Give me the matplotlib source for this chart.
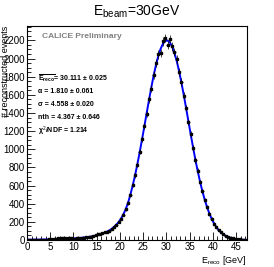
import numpy as np
import matplotlib
matplotlib.use('Agg')
import matplotlib.pyplot as plt
from matplotlib.ticker import MultipleLocator

plt.rcParams['font.family'] = ['Liberation Sans', 'DejaVu Sans']
plt.rcParams['mathtext.fontset'] = 'custom'
plt.rcParams['mathtext.rm'] = 'Liberation Sans'
plt.rcParams['mathtext.it'] = 'Liberation Sans'
plt.rcParams['mathtext.bf'] = 'Liberation Sans:bold'

# bin centres (0.5 GeV bins)
e_reco = [0.25 + 0.5 * i for i in range(95)]

# measured events per bin
events = [0, 1, 1, 2, 2, 3, 3, 4, 5, 6,
          8, 10, 16, 20, 22, 21, 24, 22, 18, 17,
          16, 18, 20, 22, 25, 28, 32, 36, 42, 50,
          66, 72, 78, 84, 92, 104, 122, 144, 168, 198,
          236, 280, 340, 405, 495, 605, 715, 830, 975, 1110,
          1255, 1390, 1550, 1670, 1820, 1955, 2045, 2060, 2190, 2225,
          2150, 2215, 2135, 2070, 1990, 1850, 1740, 1590, 1455, 1300,
          1165, 1015, 880, 765, 640, 540, 440, 365, 290, 236,
          182, 145, 108, 84, 62, 48, 34, 26, 18, 12,
          9, 6, 4, 3, 2]

# fitted curve values at the bin centres
fit_vals = [3.7, 4.0, 4.2, 4.5, 4.9, 5.3, 5.7, 6.1, 6.6, 7.1,
            7.7, 8.4, 9.1, 9.9, 10.7, 11.7, 12.7, 13.9, 15.2, 16.7,
            18.5, 20.4, 22.5, 24.9, 27.7, 30.8, 34.3, 38.4, 43.2, 48.6,
            55, 62, 71, 81, 93, 107, 124, 145, 170, 200,
            237, 283, 340, 411, 499, 600, 711, 834, 965, 1105,
            1249, 1396, 1540, 1679, 1810, 1927, 2026, 2106, 2162, 2194,
            2199, 2178, 2131, 2061, 1969, 1858, 1733, 1597, 1454, 1308,
            1162, 1020, 885, 759, 643, 538, 445, 364, 293, 234,
            184, 143, 110, 84, 63, 47, 34, 25, 18, 13,
            9, 6, 4, 3, 2]

fig = plt.figure(figsize=(2.74, 2.67), dpi=100)
ax = fig.add_axes([0.0985, 0.101, 0.802, 0.802])

ax.plot(e_reco, fit_vals, color='#0000ff', lw=1.4, zorder=2)
ax.errorbar(e_reco, events, yerr=np.sqrt(events), xerr=0.25, fmt='s',
            color='black', ms=1.6, elinewidth=0.5, capsize=0, zorder=3)

ax.set_xlim(0, 47.3)
ax.set_ylim(0, 2360)
ax.xaxis.set_major_locator(MultipleLocator(5))
ax.xaxis.set_minor_locator(MultipleLocator(1))
ax.yaxis.set_major_locator(MultipleLocator(200))
ax.yaxis.set_minor_locator(MultipleLocator(50))
ax.tick_params(which='both', direction='in', labelsize=7, pad=1.5,
               top=False, right=False, width=0.6)
ax.tick_params(which='major', length=6)
ax.tick_params(which='minor', length=3)
for s in ax.spines.values():
    s.set_linewidth(0.8)

fig.text(0.5, 0.985, r'E$_{\mathregular{beam}}$=30GeV', ha='center', va='top', fontsize=10)
ax.set_xlabel(r'E$_{\mathregular{reco}}$ [GeV]', fontsize=6.5, ha='right', x=1.0, labelpad=1)
ax.set_ylabel('# reconstructed events', fontsize=6.5, ha='right', va='center')
ax.yaxis.set_label_coords(-0.1, 1.0)

ax.text(0.07, 0.949, 'CALICE Preliminary', transform=ax.transAxes, fontsize=6,
        fontweight='bold', color='#808080', va='center')
stats = [r'$\overline{\mathbf{E_{reco}}}$= 30.111 ± 0.025',
         'α = 1.810 ± 0.061',
         'σ = 4.558 ± 0.020',
         'nth = 4.367 ± 0.646',
         'χ$^{2}$/NDF = 1.214']
for i, s in enumerate(stats):
    ax.text(0.05, 0.757 - i * 0.062, s, transform=ax.transAxes, fontsize=5,
            fontweight='bold', va='center')

fig.savefig('out.png', dpi=100)
